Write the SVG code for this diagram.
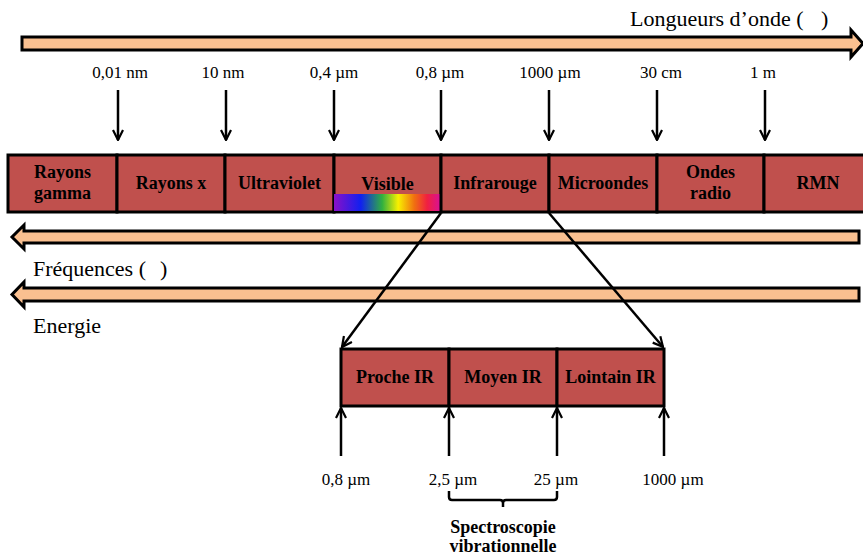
<svg xmlns="http://www.w3.org/2000/svg" width="863" height="555" viewBox="0 0 863 555">
  <style>
    .axis { fill: #FAC090; stroke: #000; stroke-width: 3; stroke-linejoin: miter; }
    .band { fill: #C0504D; stroke: #000; stroke-width: 3; }
    .lbl { font-family: "Liberation Serif", "Times New Roman", serif; font-size: 17px; fill: #000; text-anchor: middle; }
    .big { font-family: "Liberation Serif", "Times New Roman", serif; font-size: 22px; fill: #000; }
    .name { font-family: "Liberation Serif", "Times New Roman", serif; font-size: 18px; font-weight: bold; fill: #000; text-anchor: middle; }
    .conn { stroke: #000; stroke-width: 2.5; fill: none; }
  </style>
  <defs>
    <marker id="head" viewBox="0 0 12 12" refX="11" refY="6" markerWidth="12" markerHeight="12" markerUnits="userSpaceOnUse" orient="auto">
      <polyline points="1,1 11,6 1,11" fill="none" stroke="#000" stroke-width="2.2"/>
    </marker>
    <linearGradient id="spectrum" x1="0" y1="0" x2="1" y2="0">
      <stop offset="0" stop-color="#8A10C8"/>
      <stop offset="0.25" stop-color="#1020F0"/>
      <stop offset="0.45" stop-color="#30B040"/>
      <stop offset="0.6" stop-color="#F8F000"/>
      <stop offset="0.75" stop-color="#F07010"/>
      <stop offset="0.87" stop-color="#F02040"/>
      <stop offset="1" stop-color="#D8109A"/>
    </linearGradient>
  </defs>

  <!-- wavelength axis -->
  <g id="axis-wavelength">
    <polygon class="axis" points="22,37 851,37 851,30 863,43.5 851,57 851,50 22,50"/>
    <text class="big" x="630" y="26">Longueurs d’onde (</text>
    <text class="big" x="821" y="26">)</text>
  </g>

  <!-- frequency and energy axes -->
  <g id="axis-frequency">
    <polygon class="axis" points="859,231 24,231 24,225 12,237 24,249 24,243 859,243"/>
    <text class="big" x="33" y="276">Fréquences (</text>
    <text class="big" x="160" y="276">)</text>
  </g>
  <g id="axis-energy">
    <polygon class="axis" points="859,288 24,288 24,282 12,294.5 24,307 24,301 859,301"/>
    <text class="big" x="33" y="333">Energie</text>
  </g>

  <!-- spectrum bands -->
  <g id="band-gamma">
    <rect class="band" x="8" y="155" width="109" height="57"/>
    <text class="name" x="62.5" y="178">Rayons</text>
    <text class="name" x="62.5" y="199">gamma</text>
  </g>
  <g id="band-x">
    <rect class="band" x="117" y="155" width="108" height="57"/>
    <text class="name" x="171" y="189">Rayons x</text>
  </g>
  <g id="band-uv">
    <rect class="band" x="225" y="155" width="109" height="57"/>
    <text class="name" x="279.5" y="189">Ultraviolet</text>
  </g>
  <g id="band-visible">
    <rect class="band" x="334" y="155" width="107" height="57"/>
    <text class="name" x="387.5" y="190">Visible</text>
    <rect x="334" y="194" width="107" height="17" fill="url(#spectrum)"/>
  </g>
  <g id="band-ir">
    <rect class="band" x="441" y="155" width="108" height="57"/>
    <text class="name" x="495" y="189">Infrarouge</text>
  </g>
  <g id="band-micro">
    <rect class="band" x="549" y="155" width="108" height="57"/>
    <text class="name" x="603" y="189">Microondes</text>
  </g>
  <g id="band-radio">
    <rect class="band" x="657" y="155" width="107" height="57"/>
    <text class="name" x="710.5" y="178">Ondes</text>
    <text class="name" x="710.5" y="199">radio</text>
  </g>
  <g id="band-rmn">
    <rect class="band" x="764" y="155" width="108" height="57"/>
    <text class="name" x="818" y="189">RMN</text>
  </g>

  <!-- infrared detail -->
  <g id="ir-proche">
    <rect class="band" x="341" y="349" width="108" height="57"/>
    <text class="name" x="395" y="383">Proche IR</text>
  </g>
  <g id="ir-moyen">
    <rect class="band" x="449" y="349" width="108" height="57"/>
    <text class="name" x="503" y="383">Moyen IR</text>
  </g>
  <g id="ir-lointain">
    <rect class="band" x="557" y="349" width="107" height="57"/>
    <text class="name" x="610.5" y="383">Lointain IR</text>
  </g>

  <!-- boundary values -->
  <g id="values-top">
    <text class="lbl" x="120" y="78">0,01 nm</text>
    <text class="lbl" x="223" y="78">10 nm</text>
    <text class="lbl" x="334" y="78">0,4 µm</text>
    <text class="lbl" x="440" y="78">0,8 µm</text>
    <text class="lbl" x="550" y="78">1000 µm</text>
    <text class="lbl" x="661" y="78">30 cm</text>
    <text class="lbl" x="763" y="78">1 m</text>
  </g>
  <g id="values-ir">
    <text class="lbl" x="346" y="485">0,8 µm</text>
    <text class="lbl" x="453" y="485">2,5 µm</text>
    <text class="lbl" x="556" y="485">25 µm</text>
    <text class="lbl" x="673" y="485">1000 µm</text>
  </g>

  <!-- brace over the mid-infrared range -->
  <g id="vibrational">
    <path class="conn" stroke-width="2" d="M449,491 V497 Q449,500 452,500 H500 Q503,500 503,503 V507 M503,503 Q503,500 506,500 H554 Q557,500 557,497 V491"/>
    <text class="name" x="503" y="533">Spectroscopie</text>
    <text class="name" x="503" y="552">vibrationnelle</text>
  </g>

  <!-- connectors -->
  <g id="connectors">
    <line class="conn" x1="118" y1="90" x2="118" y2="140" marker-end="url(#head)"/>
    <line class="conn" x1="226" y1="90" x2="226" y2="140" marker-end="url(#head)"/>
    <line class="conn" x1="334" y1="90" x2="334" y2="140" marker-end="url(#head)"/>
    <line class="conn" x1="441" y1="90" x2="441" y2="140" marker-end="url(#head)"/>
    <line class="conn" x1="549" y1="90" x2="549" y2="140" marker-end="url(#head)"/>
    <line class="conn" x1="657" y1="90" x2="657" y2="140" marker-end="url(#head)"/>
    <line class="conn" x1="765" y1="90" x2="765" y2="140" marker-end="url(#head)"/>

    <line class="conn" x1="441" y1="213" x2="342" y2="347" marker-end="url(#head)"/>
    <line class="conn" x1="549" y1="213" x2="663" y2="347" marker-end="url(#head)"/>

    <line class="conn" x1="341" y1="456" x2="341" y2="408" marker-end="url(#head)"/>
    <line class="conn" x1="449" y1="456" x2="449" y2="408" marker-end="url(#head)"/>
    <line class="conn" x1="557" y1="456" x2="557" y2="408" marker-end="url(#head)"/>
    <line class="conn" x1="664" y1="456" x2="664" y2="408" marker-end="url(#head)"/>
  </g>
</svg>
